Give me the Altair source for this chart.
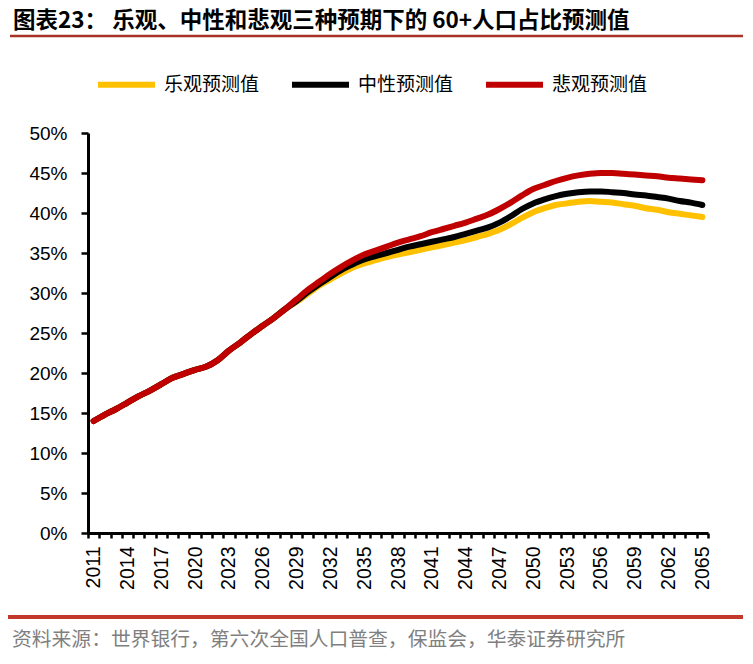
import altair as alt
import pandas as pd

# ---- data ----
years = list(range(2011, 2066))
series_names = ["乐观预测值", "中性预测值", "悲观预测值"]
series_colors = ["#FFC000", "#000000", "#C00000"]

# 2011-2028: the three scenarios coincide
common_2011_2028 = [14.0, 14.8, 15.5, 16.3, 17.1, 17.8, 18.6, 19.4, 19.9, 20.4,
                    20.8, 21.6, 22.8, 23.8, 24.9, 25.9, 26.9, 28.0]
# 2029-2065
optimistic_2029_2065 = [28.9, 29.9, 30.9, 31.7, 32.5, 33.2, 33.7, 34.1, 34.5, 34.8,
                        35.1, 35.4, 35.7, 36.0, 36.3, 36.6, 37.0, 37.4, 37.9, 38.6,
                        39.4, 40.1, 40.6, 41.0, 41.2, 41.4, 41.5, 41.4, 41.3, 41.1,
                        40.9, 40.6, 40.4, 40.1, 39.9, 39.7, 39.5]
neutral_2029_2065 = [29.0, 30.1, 31.1, 32.0, 32.9, 33.6, 34.2, 34.6, 35.0, 35.4,
                     35.8, 36.1, 36.4, 36.7, 37.0, 37.4, 37.8, 38.2, 38.8, 39.6,
                     40.5, 41.2, 41.7, 42.1, 42.4, 42.6, 42.7, 42.7, 42.6, 42.5,
                     42.3, 42.2, 42.0, 41.8, 41.5, 41.3, 41.0]
pessimistic_2029_2065 = [29.2, 30.4, 31.4, 32.4, 33.3, 34.1, 34.8, 35.3, 35.8, 36.3,
                         36.7, 37.1, 37.6, 38.0, 38.4, 38.8, 39.3, 39.8, 40.5, 41.3,
                         42.2, 43.0, 43.5, 44.0, 44.4, 44.7, 44.9, 45.0, 45.0, 44.9,
                         44.8, 44.7, 44.6, 44.4, 44.3, 44.2, 44.1]

y_ticks = [0, 0.05, 0.10, 0.15, 0.20, 0.25, 0.30, 0.35, 0.40, 0.45, 0.50]

title_text = "图表23：  乐观、中性和悲观三种预期下的 60+人口占比预测值"
source_text = "资料来源：世界银行，第六次全国人口普查，保监会，华泰证券研究所"

rows = []
for name, tail in zip(series_names,
                      [optimistic_2029_2065, neutral_2029_2065, pessimistic_2029_2065]):
    vals = common_2011_2028 + tail
    for y, v in zip(years, vals):
        rows.append({"year": y, "series": name, "value": v / 100.0})
df = pd.DataFrame(rows)

lines = alt.Chart(df).mark_line(
    strokeWidth=6, interpolate="monotone", strokeCap="round", strokeJoin="round"
).encode(
    x=alt.X("year:O",
            scale=alt.Scale(type="band", paddingInner=0, paddingOuter=0),
            bandPosition=0.5,
            axis=alt.Axis(title=None, labelAngle=-90, labelAlign="right",
                          labelBaseline="middle", labelOverlap=False,
                          labelExpr="(datum.value - 2011) % 3 == 0 ? datum.value : ''",
                          tickBand="extent", tickSize=5, tickWidth=2.5,
                          tickColor="#000000", domainColor="#000000", domainWidth=3,
                          labelFont="Liberation Sans", labelFontSize=19.5,
                          labelColor="#000000", labelPadding=8, grid=False)),
    y=alt.Y("value:Q",
            scale=alt.Scale(domain=[0, 0.5], nice=False),
            axis=alt.Axis(title=None, values=y_ticks, format=".0%", tickSize=7,
                          tickWidth=2.5, tickColor="#000000", domainColor="#000000",
                          domainWidth=3, labelFont="Liberation Sans", labelFontSize=19,
                          labelColor="#000000", labelPadding=14, grid=False)),
    color=alt.Color("series:N", sort=series_names,
                    scale=alt.Scale(domain=series_names, range=series_colors),
                    legend=alt.Legend(title=None, orient="none", legendX=7, legendY=-80,
                                      direction="horizontal", columns=3,
                                      symbolType="stroke", symbolStrokeWidth=6,
                                      symbolSize=3249, labelFontSize=19,
                                      labelFont="Noto Sans CJK SC", labelColor="#000000",
                                      labelOffset=6, columnPadding=20, labelLimit=300)),
)

one = pd.DataFrame({"t": [title_text], "s": [source_text]})

title = alt.Chart(one).mark_text(
    align="left", baseline="middle", font="Noto Sans CJK SC", fontSize=22.5,
    fontWeight="bold", color="#000000"
).encode(text="t:N", x=alt.value(-75), y=alt.value(-112))

title_rule = alt.Chart(one).mark_rule(color="#A93226", strokeWidth=2.5).encode(
    x=alt.value(-78), x2=alt.value(657), y=alt.value(-97))

foot_rule = alt.Chart(one).mark_rule(color="#C0392B", strokeWidth=4).encode(
    x=alt.value(-80), x2=alt.value(657), y=alt.value(484))

source = alt.Chart(one).mark_text(
    align="left", baseline="middle", font="Noto Sans CJK SC", fontSize=19.8,
    color="#7F7F7F"
).encode(text="s:N", x=alt.value(-76), y=alt.value(507))

chart = alt.layer(lines, title, title_rule, foot_rule, source).properties(
    width=620, height=400,
    autosize=alt.AutoSizeParams(type="none"),
    padding={"left": 80, "top": 125, "right": 35, "bottom": 116},
).configure_view(stroke=None)

chart.save("out.html", embed_options={"renderer": "svg", "actions": False})
